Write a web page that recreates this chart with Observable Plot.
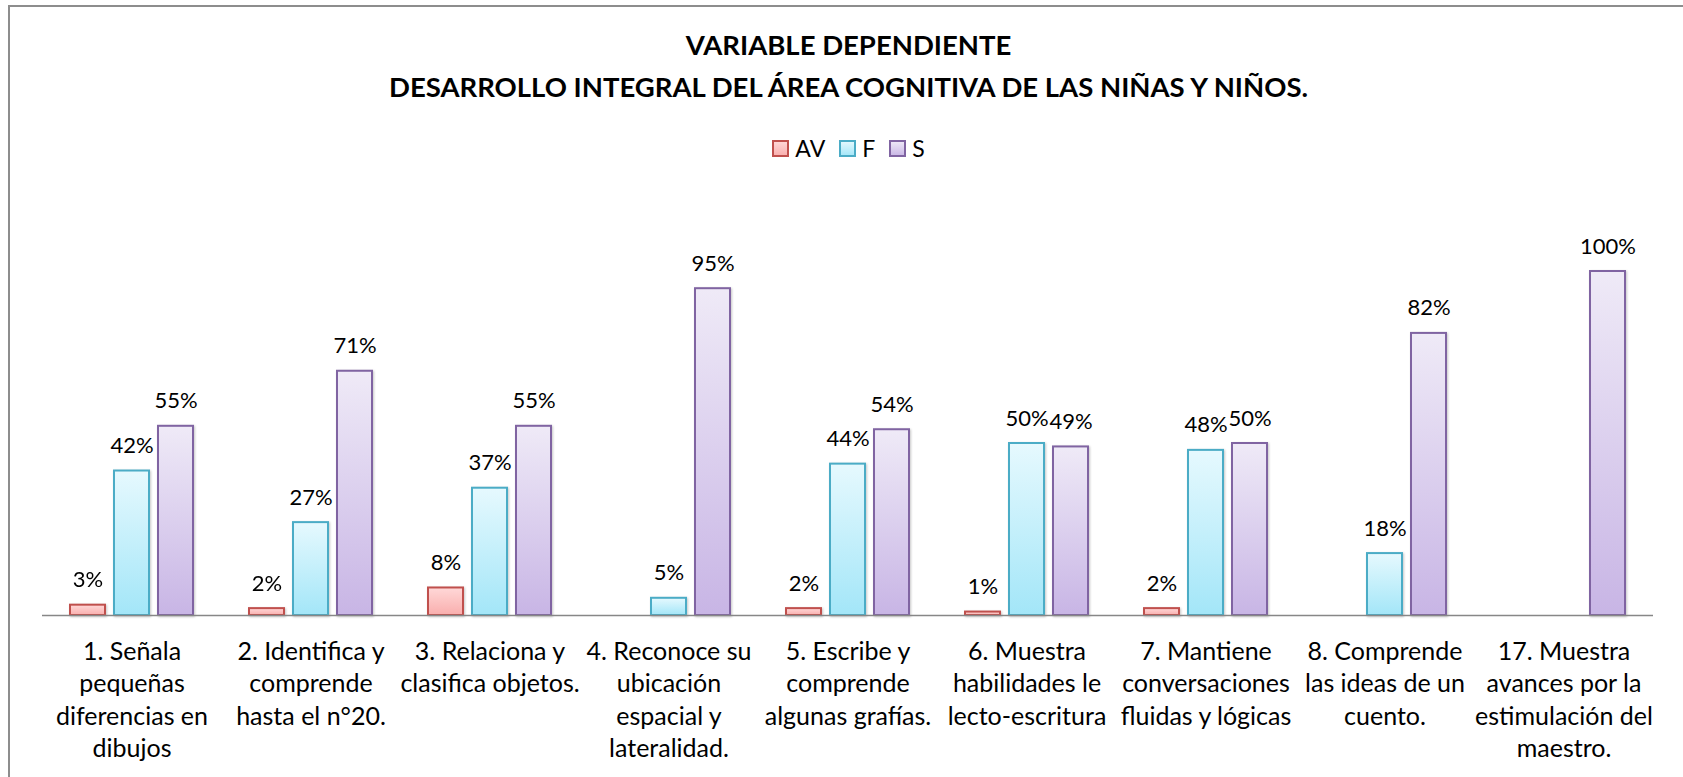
<!DOCTYPE html>
<html>
<head>
<meta charset="utf-8">
<script src="https://cdn.jsdelivr.net/npm/d3@7"></script>
<script src="https://cdn.jsdelivr.net/npm/@observablehq/plot@0.6"></script>
<style>
  html, body { margin: 0; padding: 0; background: #fff; }
  body { width: 1683px; height: 777px; position: relative; overflow: hidden; font-family: Lato, "Open Sans", sans-serif; color: #000; }
  #frame { position: absolute; left: 8px; top: 5px; right: -4px; bottom: -4px; border-top: 2px solid #8d8d8d; border-left: 2px solid #8d8d8d; }
  #title { position: absolute; left: 14px; right: 0; top: 24px; text-align: center; font-weight: 700; font-size: 27.5px; line-height: 42px; }
  #legend { position: absolute; left: 14px; right: 0; top: 137px; display: flex; justify-content: center; align-items: center; font-size: 23px; line-height: 22px; }
  #legend .item { display: flex; align-items: center; margin: 0 7px; }
  #legend svg { margin-right: 6px; }
  #chart { position: absolute; left: 0; top: 200px; }
  #chart g[aria-label="bar"] { filter: drop-shadow(1.5px 1px 1px rgba(0,0,0,0.22)); }
</style>
</head>
<body>
<div id="frame"></div>
<div id="title">VARIABLE DEPENDIENTE<br>DESARROLLO INTEGRAL DEL ÁREA COGNITIVA DE LAS NIÑAS Y NIÑOS.</div>
<div id="legend"></div>
<div id="chart"></div>
<script>
// ---- data ----
const categories = [
  "1. Señala\npequeñas\ndiferencias en\ndibujos",
  "2. Identifica y\ncomprende\nhasta el n°20.",
  "3. Relaciona y\nclasifica objetos.",
  "4. Reconoce su\nubicación\nespacial y\nlateralidad.",
  "5. Escribe y\ncomprende\nalgunas grafías.",
  "6. Muestra\nhabilidades le\nlecto-escritura",
  "7. Mantiene\nconversaciones\nfluidas y lógicas",
  "8. Comprende\nlas ideas de un\ncuento.",
  "17. Muestra\navances por la\nestimulación del\nmaestro."
];
const series = ["AV", "F", "S"];
const valuesAV = [3, 2, 8, 0, 2, 1, 2, 0, 0];
const valuesF  = [42, 27, 37, 5, 44, 50, 48, 18, 0];
const valuesS  = [55, 71, 55, 95, 54, 49, 50, 82, 100];

// ---- styles ----
const strokeColors = { AV: "#C0504D", F: "#4BACC6", S: "#8064A2" };
const gradStops = {
  AV: ["#FFD8D8", "#F9AEAD"],
  F:  ["#E6F9FE", "#A3E6F8"],
  S:  ["#EFEAF7", "#C8B5E5"]
};

const valuesBySeries = { AV: valuesAV, F: valuesF, S: valuesS };
const rows = [];
categories.forEach((c, i) => series.forEach(s => rows.push({ cat: c, serie: s, value: valuesBySeries[s][i] })));
const shown = rows.filter(d => d.value > 0);

const chart = Plot.plot({
  width: 1683,
  height: 577,
  marginLeft: 38,
  marginRight: 27,
  marginTop: 71,
  marginBottom: 162,
  style: { fontFamily: "Lato, 'Open Sans', sans-serif", color: "#000", background: "transparent" },
  fx: { domain: categories, paddingInner: 0, paddingOuter: 0, label: null },
  x: { domain: series, paddingInner: 0.2, paddingOuter: 0.6, axis: null },
  y: { domain: [0, 100], axis: null },
  marks: [
    ...series.map(s => Plot.barY(shown.filter(d => d.serie === s), {
      fx: "cat", x: "serie", y: "value",
      fill: `url(#grad-${s})`, stroke: strokeColors[s], strokeWidth: 2
    })),
    Plot.ruleY([0], { stroke: "#878787", strokeWidth: 1.6 }),
    Plot.text(shown, {
      fx: "cat", x: "serie", y: "value",
      text: d => d.value + "%", lineAnchor: "bottom", dy: -18, fontSize: 22, fill: "#000"
    }),
    Plot.axisFx({ anchor: "bottom", tickSize: 0, tickPadding: 21, fontSize: 25, lineHeight: 1.3, label: null, fill: "#000" })
  ]
});

// gradient defs
const ns = "http://www.w3.org/2000/svg";
function addGradients(svg) {
  const defs = document.createElementNS(ns, "defs");
  for (const s of series) {
    const g = document.createElementNS(ns, "linearGradient");
    g.setAttribute("id", `grad-${s}`);
    g.setAttribute("x1", "0"); g.setAttribute("y1", "0");
    g.setAttribute("x2", "0"); g.setAttribute("y2", "1");
    gradStops[s].forEach((c, k) => {
      const st = document.createElementNS(ns, "stop");
      st.setAttribute("offset", k === 0 ? "0" : "1");
      st.setAttribute("stop-color", c);
      g.appendChild(st);
    });
    defs.appendChild(g);
  }
  svg.insertBefore(defs, svg.firstChild);
}
addGradients(chart);
document.getElementById("chart").appendChild(chart);

// legend
const legend = document.getElementById("legend");
for (const s of series) {
  const item = document.createElement("div");
  item.className = "item";
  const sw = document.createElementNS(ns, "svg");
  sw.setAttribute("width", 17); sw.setAttribute("height", 17);
  const r = document.createElementNS(ns, "rect");
  r.setAttribute("x", 1); r.setAttribute("y", 1); r.setAttribute("width", 15); r.setAttribute("height", 15);
  r.setAttribute("fill", `url(#grad-${s})`);
  r.setAttribute("stroke", strokeColors[s]); r.setAttribute("stroke-width", 2);
  sw.appendChild(r);
  const label = document.createElement("span");
  label.textContent = s;
  item.appendChild(sw); item.appendChild(label);
  legend.appendChild(item);
}
</script>
</body>
</html>
